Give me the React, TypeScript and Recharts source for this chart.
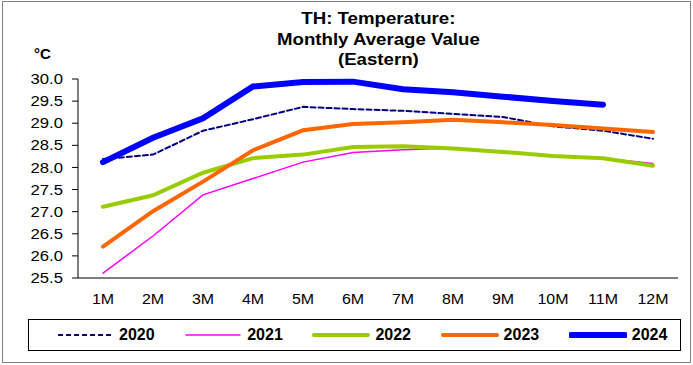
import { LineChart, Line, XAxis, YAxis } from 'recharts';

const months = ['1M', '2M', '3M', '4M', '5M', '6M', '7M', '8M', '9M', '10M', '11M', '12M'];
const y2020 = [28.19, 28.29, 28.83, 29.09, 29.37, 29.32, 29.28, 29.21, 29.14, 28.93, 28.83, 28.65];
const y2021 = [25.61, 26.45, 27.38, 27.75, 28.12, 28.34, 28.4, 28.44, 28.36, 28.27, 28.21, 28.09];
const y2022 = [27.11, 27.37, 27.88, 28.21, 28.29, 28.46, 28.48, 28.43, 28.35, 28.26, 28.21, 28.04];
const y2023 = [26.21, 27.01, 27.68, 28.39, 28.84, 28.98, 29.02, 29.08, 29.02, 28.96, 28.88, 28.8];
const y2024 = [28.12, 28.67, 29.11, 29.83, 29.93, 29.94, 29.77, 29.7, 29.6, 29.5, 29.42, null];
const yTicks = [25.5, 26.0, 26.5, 27.0, 27.5, 28.0, 28.5, 29.0, 29.5, 30.0];

const data = months.map((m, i) => ({
  x: i + 1,
  label: m,
  y2020: y2020[i],
  y2021: y2021[i],
  y2022: y2022[i],
  y2023: y2023[i],
  y2024: y2024[i],
}));

const series = [
  { key: 'y2020', name: '2020', color: '#000080', width: 2, dash: '5 3' },
  { key: 'y2021', name: '2021', color: '#FF00FF', width: 1.5 },
  { key: 'y2022', name: '2022', color: '#99CC00', width: 4 },
  { key: 'y2023', name: '2023', color: '#FF6600', width: 4 },
  { key: 'y2024', name: '2024', color: '#0000FF', width: 6 },
];

const font = '"Liberation Sans", Arial, sans-serif';

// tick text is a little wider than plain Arial in the original, so stretch it
function YTick(props: any) {
  const { x, y, payload } = props;
  return (
    <text transform={`translate(${x},${y}) scale(1.15,1)`} textAnchor="end" dominantBaseline="central" fontSize={14.5} fontFamily={font} fill="#000">
      {Number(payload.value).toFixed(1)}
    </text>
  );
}

function XTick(props: any) {
  const { x, y, payload } = props;
  return (
    <text transform={`translate(${x},${y}) scale(1.1,1)`} textAnchor="middle" dominantBaseline="hanging" fontSize={14.5} fontFamily={font} fill="#000">
      {months[payload.value - 1]}
    </text>
  );
}

export default function App() {
  return (
    <div style={{ position: 'absolute', left: 0, top: 0, width: 693, height: 365, background: '#fff', fontFamily: font }}>
      <div style={{ position: 'absolute', left: 2, top: 1, width: 687, height: 360, border: '1px solid #808080' }} />
      <div style={{ position: 'absolute', left: 78, width: 600, top: 8, textAlign: 'center', fontWeight: 'bold', fontSize: 16.5, lineHeight: '20.5px', color: '#000', transform: 'scaleX(1.13)', transformOrigin: '297px 0' }}>
        TH: Temperature:<br />Monthly Average Value<br />(Eastern)
      </div>
      <div style={{ position: 'absolute', left: 34, top: 45, fontWeight: 'bold', fontSize: 15, color: '#000' }}>°C</div>
      <LineChart width={693} height={365} data={data} margin={{ top: 79, right: 15, bottom: 49, left: 0 }} style={{ position: 'absolute', left: 0, top: 0 }}>
        <YAxis
          domain={[25.5, 30]}
          ticks={yTicks}
          width={78}
          tickSize={6}
          tickMargin={9}
          interval={0}
          stroke="#000"
          tick={<YTick />}
        />
        <XAxis
          xAxisId={0}
          dataKey="x"
          type="number"
          domain={[0.5, 12.5]}
          ticks={[0.5, 1.5, 2.5, 3.5, 4.5, 5.5, 6.5, 7.5, 8.5, 9.5, 10.5, 11.5, 12.5]}
          interval={0}
          height={8}
          tickSize={5}
          tick={false}
          stroke="#000"
        />
        <XAxis
          xAxisId="labels"
          dataKey="x"
          type="number"
          domain={[0.5, 12.5]}
          ticks={[1, 2, 3, 4, 5, 6, 7, 8, 9, 10, 11, 12]}
          interval={0}
          height={30}
          tickSize={0}
          tickMargin={7}
          axisLine={false}
          tickLine={false}
          tick={<XTick />}
        />
        {series.map((s) => (
          <Line
            key={s.key}
            xAxisId={0}
            type="linear"
            dataKey={s.key}
            name={s.name}
            stroke={s.color}
            strokeWidth={s.width}
            strokeDasharray={s.dash}
            strokeLinecap="round"
            dot={false}
            activeDot={false}
            isAnimationActive={false}
          />
        ))}
      </LineChart>
      <div style={{ position: 'absolute', left: 28, top: 319, width: 653, height: 32, border: '1px solid #000', boxSizing: 'border-box' }}>
        {series.map((s, i) => (
          <div key={s.key} style={{ position: 'absolute', left: 27 + i * 128.2, top: 0, height: 30, display: 'flex', alignItems: 'center' }}>
            <svg width={58} height={10} style={{ display: 'block' }}>
              <line x1={2} y1={5} x2={56} y2={5} stroke={s.color} strokeWidth={s.width} strokeDasharray={s.dash} strokeLinecap={s.dash ? 'butt' : 'round'} />
            </svg>
            <span style={{ marginLeft: 5, fontWeight: 'bold', fontSize: 16, color: '#000' }}>{s.name}</span>
          </div>
        ))}
      </div>
    </div>
  );
}
